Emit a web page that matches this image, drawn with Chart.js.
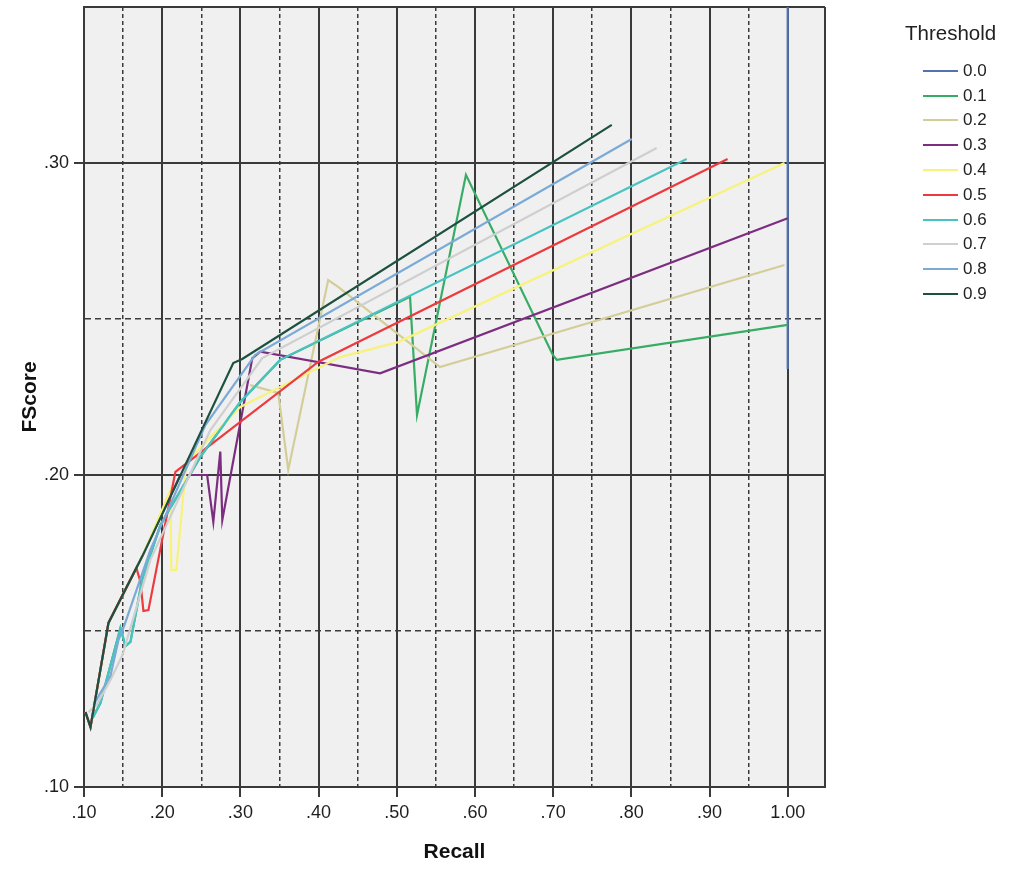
<!DOCTYPE html>
<html><head><meta charset="utf-8">
<script src="https://cdn.jsdelivr.net/npm/chart.js@4/dist/chart.umd.min.js"></script>
<style>
html,body{margin:0;padding:0;background:#fff;}
#wrap{position:relative;width:1012px;height:873px;overflow:hidden;}
#c{position:absolute;left:0;top:0;}
#legend{position:absolute;left:0;top:0;width:1012px;height:873px;font-family:'Liberation Sans',Arial,sans-serif;color:#222;pointer-events:none;}
.lg-title{position:absolute;font-size:20.5px;line-height:24px;white-space:nowrap;}
.lg-line{position:absolute;height:2px;}
.lg-text{position:absolute;font-size:17px;line-height:20px;white-space:nowrap;}
</style></head>
<body>
<div id="wrap"><canvas id="c" width="1012" height="873"></canvas><div id="legend"></div></div>
<script>
// ---- data ----
const thresholdLabels = ['0.0','0.1','0.2','0.3','0.4','0.5','0.6','0.7','0.8','0.9'];
const legendTitle = 'Threshold';
const xTitle = 'Recall';
const yTitle = 'FScore';

const recall00 = [1.000, 1.000];
const fscore00 = [0.234, 0.350];

const recall01 = [0.111, 0.121, 0.1466, 0.153, 0.1594, 0.1743, 0.1977, 0.2488, 0.2999, 0.3510, 0.5170, 0.5259, 0.5885, 0.6996, 0.7047, 1.000];
const fscore01 = [0.1221, 0.1269, 0.1510, 0.1452, 0.1465, 0.1663, 0.1840, 0.2058, 0.2234, 0.2369, 0.2571, 0.2192, 0.2962, 0.2385, 0.2369, 0.2481];

const recall02 = [0.3126, 0.3484, 0.3612, 0.4123, 0.4250, 0.5553, 0.9959];
const fscore02 = [0.2288, 0.2263, 0.2016, 0.2625, 0.2603, 0.2346, 0.2673];

const recall03 = [0.1019, 0.1083, 0.1313, 0.1747, 0.2232, 0.2575, 0.2654, 0.2743, 0.2769, 0.3152, 0.3254, 0.4787, 1.000];
const fscore03 = [0.1240, 0.1192, 0.1526, 0.1740, 0.2000, 0.2000, 0.1850, 0.2075, 0.1856, 0.2374, 0.2395, 0.2326, 0.2823];

const recall04 = [0.1019, 0.1083, 0.1313, 0.1747, 0.2105, 0.2117, 0.2181, 0.2309, 0.2999, 0.4276, 0.5017, 0.9959];
const fscore04 = [0.1240, 0.1192, 0.1526, 0.1740, 0.1952, 0.1696, 0.1696, 0.2042, 0.2218, 0.2378, 0.2426, 0.3000];

const recall05 = [0.1019, 0.1083, 0.1313, 0.1670, 0.1722, 0.1760, 0.1824, 0.2169, 0.3999, 0.9231];
const fscore05 = [0.1240, 0.1192, 0.1526, 0.1702, 0.1657, 0.1564, 0.1567, 0.2010, 0.2363, 0.3013];

const recall06 = [0.111, 0.121, 0.1466, 0.153, 0.1594, 0.1743, 0.1977, 0.2488, 0.2999, 0.3510, 0.8708];
const fscore06 = [0.1221, 0.1269, 0.1510, 0.1452, 0.1465, 0.1663, 0.1840, 0.2058, 0.2234, 0.2369, 0.3013];

const recall07 = [0.1057, 0.1160, 0.1338, 0.1492, 0.1849, 0.2616, 0.3280, 0.8324];
const fscore07 = [0.1240, 0.1263, 0.1343, 0.1423, 0.1728, 0.2144, 0.2375, 0.3048];

const recall08 = [0.1121, 0.1338, 0.1441, 0.1517, 0.1849, 0.2552, 0.3190, 0.8005];
const fscore08 = [0.1263, 0.1356, 0.1471, 0.1519, 0.1760, 0.2160, 0.2385, 0.3077];

const recall09 = [0.1019, 0.1083, 0.1313, 0.1747, 0.2909, 0.3024, 0.7750];
const fscore09 = [0.1240, 0.1192, 0.1526, 0.1740, 0.2359, 0.2372, 0.3122];

const xTickValues = [0.10,0.15,0.20,0.25,0.30,0.35,0.40,0.45,0.50,0.55,0.60,0.65,0.70,0.75,0.80,0.85,0.90,0.95,1.00];
const yTickValues = [0.10,0.15,0.20,0.25,0.30,0.35];
const xRange = [0.10, 1.0477];
const yRange = [0.10, 0.35];

// ---- styles ----
const lineColors = ['#5272b2','#36ac64','#d3ce97','#7c2d80','#f7f27a','#ec3a3e','#48c3c2','#cfcfcf','#7aaad5','#1c5040'];
const FONT = "'Liberation Sans', Arial, sans-serif";
const GRID = '#3a3a3a';

const recallSeries = [recall00,recall01,recall02,recall03,recall04,recall05,recall06,recall07,recall08,recall09];
const fscoreSeries = [fscore00,fscore01,fscore02,fscore03,fscore04,fscore05,fscore06,fscore07,fscore08,fscore09];

function isMajor(v){ return Math.abs(v*10 - Math.round(v*10)) < 1e-6; }
function isBound(v, scale){ return Math.abs(v - scale.max) < 1e-9 || Math.abs(v - scale.min) < 1e-9; }
function fmt(v){ const s = v.toFixed(2); return s.charAt(0) === '0' ? s.slice(1) : s; }
function solid(ctx){ return !ctx.tick || isMajor(ctx.tick.value) || isBound(ctx.tick.value, ctx.scale); }

const plotBg = {
  id: 'plotBg',
  beforeDraw(chart){
    const {ctx, chartArea:{left, top, width, height}} = chart;
    ctx.save(); ctx.fillStyle = '#f0f0f0'; ctx.fillRect(left, top, width, height); ctx.restore();
  }
};

function zeroPad(scale){ scale.paddingTop = 0; scale.paddingBottom = 0; scale.paddingLeft = 0; scale.paddingRight = 0; }

const datasets = thresholdLabels.map((lab, i) => ({
  label: lab,
  data: recallSeries[i].map((x, k) => ({x: x, y: fscoreSeries[i][k]})),
  borderColor: lineColors[i],
  backgroundColor: lineColors[i],
  borderWidth: 2.2,
  pointRadius: 0,
  pointHoverRadius: 0,
  showLine: true,
  fill: false,
  tension: 0,
  order: thresholdLabels.length - 1 - i
}));

new Chart(document.getElementById('c'), {
  type: 'scatter',
  data: { datasets },
  plugins: [plotBg],
  options: {
    responsive: false,
    animation: false,
    devicePixelRatio: 1,
    layout: { padding: { left: 0, top: 7, right: 187, bottom: 0 } },
    plugins: { legend: { display: false }, tooltip: { enabled: false } },
    scales: {
      x: {
        type: 'linear', min: xRange[0], max: xRange[1],
        afterBuildTicks: s => { s.ticks = xTickValues.concat([xRange[1]]).map(v => ({value: v})); },
        afterFit: s => { s.height = 86; zeroPad(s); },
        ticks: { autoSkip: false, maxRotation: 0, minRotation: 0, padding: 5, color: '#1e1e1e',
                 font: { family: FONT, size: 18 },
                 callback: v => (isMajor(v) && v <= 1.0001) ? fmt(v) : '' },
        grid: { color: GRID, lineWidth: ctx => solid(ctx) ? 2 : 1.5, tickLength: 10, tickWidth: 2,
                tickColor: ctx => (ctx.tick && isMajor(ctx.tick.value) && ctx.tick.value <= 1.0001) ? GRID : 'rgba(0,0,0,0)' },
        border: { display: true, color: GRID, width: 2, dash: ctx => solid(ctx) ? [] : [4,3] },
        title: { display: true, text: xTitle, color: '#111', font: { family: FONT, size: 21, weight: 'bold' }, padding: { top: 0, bottom: 8 } }
      },
      y: {
        type: 'linear', min: yRange[0], max: yRange[1],
        afterBuildTicks: s => { s.ticks = yTickValues.map(v => ({value: v})); },
        afterFit: s => { s.width = 84; zeroPad(s); },
        ticks: { autoSkip: false, padding: 5, color: '#1e1e1e',
                 font: { family: FONT, size: 18 },
                 callback: v => (isMajor(v) && v <= 0.3001) ? fmt(v) : '' },
        grid: { color: GRID, lineWidth: ctx => solid(ctx) ? 2 : 1.5, tickLength: 10, tickWidth: 2,
                tickColor: ctx => (ctx.tick && isMajor(ctx.tick.value) && ctx.tick.value <= 0.3001) ? GRID : 'rgba(0,0,0,0)' },
        border: { display: true, color: GRID, width: 2, dash: ctx => solid(ctx) ? [] : [6,4] },
        title: { display: true, text: yTitle, color: '#111', font: { family: FONT, size: 21, weight: 'bold' }, padding: { top: 18, bottom: 0 } }
      }
    }
  }
});

// ---- legend ----
const leg = document.getElementById('legend');
const t = document.createElement('div');
t.className = 'lg-title'; t.textContent = legendTitle;
t.style.left = '905px'; t.style.top = '21px';
leg.appendChild(t);
thresholdLabels.forEach((lab, i) => {
  const cy = 70.7 + 24.8 * i;
  const ln = document.createElement('div');
  ln.className = 'lg-line';
  ln.style.left = '923px'; ln.style.width = '35px'; ln.style.top = (cy - 1) + 'px';
  ln.style.background = lineColors[i];
  leg.appendChild(ln);
  const tx = document.createElement('div');
  tx.className = 'lg-text'; tx.textContent = lab;
  tx.style.left = '963px'; tx.style.top = (cy - 10) + 'px';
  leg.appendChild(tx);
});
</script>
</body></html>
